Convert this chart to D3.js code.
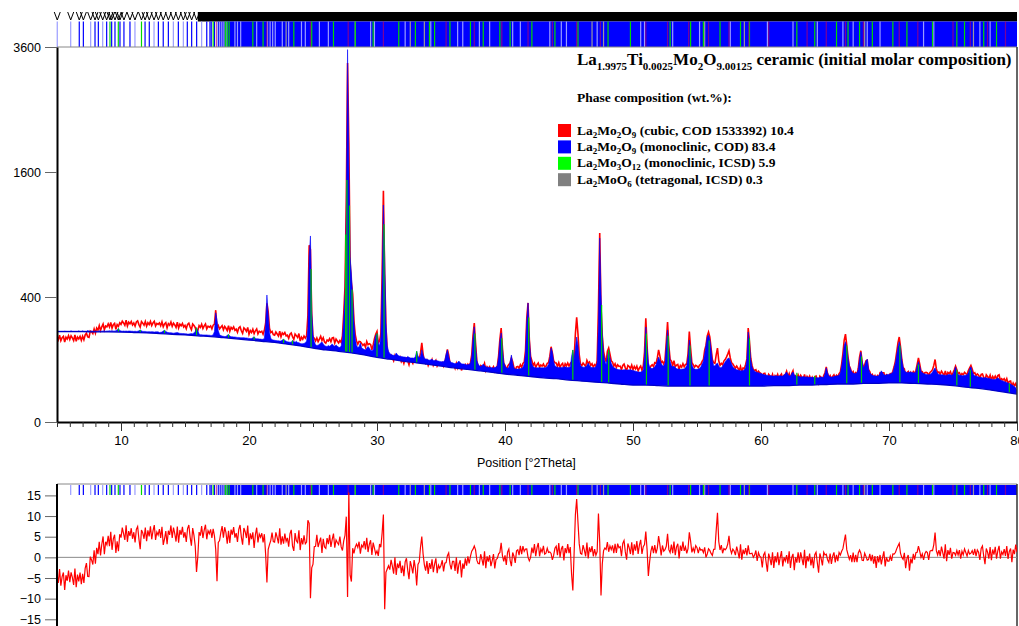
<!DOCTYPE html>
<html>
<head>
<meta charset="utf-8" />
<script src="https://d3js.org/d3.v7.min.js"></script>
<style>
    body { margin: 0; background: #fff; }
    svg { display: block; font-family: "Liberation Sans", Arial, sans-serif; }
    .tick text { font-size: 12.5px; fill: #000; }
    .legend { font-family: "Liberation Serif", "Times New Roman", serif; font-weight: bold; fill: #000; }
</style>
</head>
<body>
<div id="chart"></div>
<script>
// measurement grid: 5 to 80 deg 2theta, 0.1 deg step
var startAngle = 5, stepAngle = 0.1;

// observed counts, one row per degree
var observed = [
187,173,193,169,182,188,164,184,176,191,
174,190,181,170,194,167,185,177,188,171,
188,173,194,202,185,183,212,208,200,222,
202,226,216,238,214,232,246,218,236,232,
247,231,254,225,242,249,220,243,234,252,
244,260,251,239,265,236,255,247,259,241,
251,235,256,262,243,230,258,250,240,259,
235,252,243,259,238,251,260,236,249,244,
251,237,257,232,246,253,227,248,240,256,
234,250,241,229,255,226,245,237,249,231,
239,223,244,250,231,218,246,238,228,205,
215,238,229,245,224,237,246,222,235,230,
236,222,240,245,320,225,238,222,230,238,
218,234,225,214,238,211,229,221,232,215,
221,206,226,232,213,201,227,220,210,229,
197,214,205,220,200,213,222,199,211,206,
211,197,215,250,360,310,225,205,210,195,
193,207,198,189,211,186,203,196,205,190,
193,179,197,203,186,175,198,191,183,200,
168,184,175,189,180,190,289,800,760,300,
185,180,168,181,165,176,188,170,182,164,
159,172,168,178,165,181,183,160,176,168,
160,170,162,190,300,470,1250,3300,2000,650,
500,420,262,195,168,155,166,165,158,150,
156,143,166,153,157,154,133,152,178,197,
210,160,168,200,560,1370,560,230,135,118,
106,114,105,96,113,102,109,100,107,93,
100,88,103,105,96,84,101,95,88,101,
98,96,104,100,122,160,118,96,88,97,
82,92,87,99,82,90,97,80,87,83,
85,90,80,92,112,135,115,88,79,86,
84,74,88,75,88,87,68,80,75,84,
76,85,79,90,115,190,251,160,95,80,
74,82,79,78,88,68,78,73,78,68,
72,78,66,75,80,112,175,226,140,88,
82,68,79,85,89,105,93,75,67,78,
79,74,84,77,88,92,130,275,363,175,
110,96,82,89,76,84,89,77,83,80,
86,78,80,88,90,110,145,122,96,90,
89,79,90,76,84,88,74,87,81,89,
80,88,92,95,105,200,280,200,115,86,
81,89,84,79,97,88,92,82,87,77,
84,80,96,330,914,340,190,128,105,93,
128,140,118,96,92,80,87,76,84,79,
80,70,82,86,75,67,82,79,73,83,
70,79,72,80,67,75,80,68,80,125,
275,150,72,74,80,84,79,90,88,105,
133,112,90,94,86,98,165,256,150,100,
95,82,96,78,83,85,71,82,77,87,
78,85,86,120,209,140,90,84,77,82,
80,76,83,85,94,100,132,150,190,207,
185,140,100,90,88,115,140,96,82,88,
84,95,100,108,118,130,105,90,86,80,
74,80,74,67,79,65,75,73,85,102,
226,165,104,82,70,68,70,60,66,62,
60,51,60,61,52,45,58,54,49,58,
46,55,51,58,48,55,59,47,56,57,
66,53,60,46,60,67,47,54,49,57,
49,56,51,47,58,44,53,48,54,45,
51,43,52,54,46,39,54,51,45,55,
62,78,60,50,55,47,53,57,50,56,
52,60,64,86,120,172,198,150,108,80,
72,60,65,56,62,58,74,108,130,92,
72,84,96,98,70,65,55,58,50,55,
46,55,51,62,61,62,62,49,57,55,
55,60,58,66,78,95,125,160,185,145,
100,76,72,55,62,65,53,63,58,65,
60,68,85,105,86,66,65,58,62,63,
62,55,63,66,70,82,100,72,62,64,
58,66,61,55,67,53,63,60,65,55,
62,70,80,70,60,62,55,60,57,63,
60,58,68,75,82,72,60,62,55,59,
56,49,58,59,51,45,57,53,48,56,
45,53,48,54,47,55,57,44,48,45,
48,42,48,38,42,43,32,39,34,38,
30
];

// calculated profile, same grid
var calculated = [
213,211,211,211,211,211,212,211,211,211,
211,213,211,211,211,211,211,213,211,211,
213,211,211,211,214,212,211,212,211,211,
212,211,211,213,211,211,212,213,211,212,
212,213,212,213,212,212,213,217,224,214,
212,211,212,211,212,211,212,212,211,211,
210,211,210,211,213,217,213,210,210,210,
209,208,209,208,209,208,207,208,208,208,
205,206,207,212,216,210,206,205,204,204,
203,202,203,204,205,203,201,201,200,200,
199,199,198,198,199,200,199,203,210,228,
214,198,195,195,194,194,194,194,193,193,
192,192,195,210,305,265,214,196,191,189,
188,187,187,193,196,189,186,186,185,185,
184,183,183,182,182,182,182,181,181,180,
179,178,178,182,186,179,177,177,176,176,
175,175,180,245,413,295,205,180,173,172,
171,170,169,169,168,168,172,176,170,167,
165,164,163,163,170,166,163,167,162,161,
158,157,157,158,161,168,225,700,886,320,
195,165,153,150,151,155,160,164,156,150,
147,146,150,147,151,156,150,147,152,148,
143,142,148,180,270,420,1100,3550,1700,700,
560,400,255,180,150,142,145,160,142,137,
135,133,140,146,140,132,130,133,165,192,
200,158,150,185,500,1205,700,255,150,128,
120,117,115,114,113,122,116,112,111,110,
109,108,108,106,110,107,105,105,105,104,
110,128,112,105,110,133,114,104,102,101,
99,98,99,101,97,97,98,96,95,94,
93,93,94,98,118,133,110,95,91,90,
88,87,88,91,95,90,87,86,86,85,
84,84,85,89,108,178,232,150,98,86,
80,79,81,86,82,78,77,77,76,76,
75,75,76,77,81,108,168,203,138,92,
80,75,74,77,92,115,88,74,72,72,
72,72,73,74,77,86,120,260,363,180,
110,86,78,76,75,75,75,76,75,75,
75,75,76,79,85,104,140,125,94,81,
78,77,76,76,76,77,77,78,77,76,
76,78,110,133,100,140,185,150,100,82,
78,77,77,78,82,89,82,77,76,76,
76,78,90,250,866,420,200,120,95,85,
110,133,105,88,80,76,74,72,71,70,
70,69,69,70,70,69,69,70,70,69,
68,67,66,65,64,64,64,65,70,110,
231,140,90,78,74,73,75,78,84,95,
108,98,88,82,80,90,150,217,140,95,
82,78,80,76,73,72,72,71,71,72,
72,75,82,110,172,120,85,75,72,71,
71,72,74,78,86,95,120,150,185,194,
175,135,98,82,80,86,89,80,75,76,
80,86,92,98,103,105,96,86,78,74,
72,70,69,68,67,67,68,70,76,100,
207,160,100,78,70,66,64,63,62,61,
60,59,58,57,56,56,55,55,55,54,
54,54,55,54,54,55,54,54,56,60,
64,58,55,54,60,64,57,54,53,53,
53,52,52,53,52,52,52,51,51,51,
51,51,50,50,50,50,51,52,51,51,
60,75,62,54,52,52,52,53,54,54,
55,56,62,80,110,150,165,140,105,82,
70,64,61,60,60,62,70,100,125,95,
75,80,95,101,72,62,58,56,55,54,
54,54,55,60,67,62,57,56,57,58,
58,59,61,63,75,90,115,145,165,140,
100,78,68,64,63,63,64,64,63,62,
62,64,80,93,80,66,62,60,59,58,
58,57,58,60,64,70,75,66,60,58,
57,57,57,56,56,56,57,58,57,56,
58,66,78,64,58,56,56,55,55,56,
56,57,62,72,78,66,58,55,54,53,
52,51,51,50,50,50,50,49,49,48,
47,47,46,46,48,50,48,45,44,43,
42,41,40,39,38,37,35,34,32,30,
27
];

// refined background, every 1 deg from 5 to 80
var backgroundStart = 5, backgroundStep = 1;
var background = [
209,209,209,208,208,207,205,203,200,197,
194,190,187,182,177,172,167,162,155,148,
140,133,128,122,115,107,101,95,90,85,
80,75,71,67,63,59,56,53,50,48,
45,43,41,39,37,35,35,34,33,33,
33,33,33,33,33,33,34,34,35,35,
36,37,37,38,38,39,39,38,37,36,
34,31,29,26,23,20
];

// La2Mo3O12 contributions shown as green sticks [2theta, counts]
var greenSticks = [[9.8,224],[11.5,217],[13.4,216],[15.9,228],[18.4,196],[20.4,186],[22.7,176],[23.4,170],
    [24.85,600],[27.55,900],[27.65,1500],[27.85,1200],[28.05,450],[30.0,200],[30.55,1000],[33.1,128],
    [37.65,200],[39.75,180],[41.85,280],[45.3,133],[47.55,350],[48.1,133],[51.05,200],[52.75,190],
    [54.45,150],[55.95,170],[59.1,180],[62.8,62],[64.2,55],[66.7,150],[67.85,110],[70.85,150],
    [72.3,85],[75.3,70],[76.35,70],[79.4,38]];

// reflection markers per phase (deg 2theta)
var monoclinicRefl = [6.74,7.06,7.97,8.23,8.88,9.27,9.53,9.92,10.23,10.70,11.88,12.21,12.92,13.30,13.70,
    14.48,15.18,15.52,15.91,16.70,16.95,17.05,17.3,17.6,17.75,17.9,18.05,18.2];
var monoclinicWeak = [5.02,6.07,7.63,8.57,11.09,12.58,14.09,14.87,16.30,18.9,19.1,19.35,20.6,21.45,21.65,
    21.85,22.05,22.6,23.1,24.1,24.4,25.5,26.2,29.5,29.8,32.2,34.2,36.3,36.7,38.0,38.8,40.6,41.2,43.5,
    44.4,44.8,47.2,50.6,50.9,53.1,55.2,57.6,60.5,62.5,64.4,66.4,67.2,68.3,69.3,72.7,73.5,77.1,77.9];
var monoclinicBand = [18.3, 80];
var trimolybdateRefl = [9.14,9.79,11.6,17.2,18.15,18.3,18.45,20.3,21.1,23.5,24.9,26.6,28.3,29.7,31.7,33.0,
    34.1,34.5,35.7,37.3,38.3,39.6,40.4,42.1,43.9,45.7,48.05,49.8,52.9,54.5,55.5,56.8,58.4,59.1,62.8,
    64.2,65.9,66.8,67.7,68.7,70.3,71.4,73.4,75.3,75.9,77.4,78.4];
var cubicRefl = [17.45,21.4,24.8,27.75,30.5,35.4,37.6,39.75,41.8,43.7,45.6,47.45,51.0,52.7,54.35,55.9,
    57.5,59.05,60.6,63.6,65.1,66.6,68.0,70.8,72.25,75.0,76.35,77.7,79.1];
var tetragonalRefl = [22.9,28.3,32.6,33.7,46.8,47.7,55.6,58.7,68.1,76.6];
var markerBand = [16.0, 80];

// axes
var xTicks = [10, 20, 30, 40, 50, 60, 70, 80];
var yTicksTop = [0, 400, 1600, 3600];
var diffTicks = [15, 10, 5, 0, -5, -10, -15];
var diffFactor = 4.5;

// legend
var titleFormula = "La_1.9975Ti_0.0025Mo_2O_9.00125";
var titleRest = " ceramic (initial molar composition)";
var phaseFormulas = ["La_2Mo_2O_9", "La_2Mo_2O_9", "La_2Mo_3O_12", "La_2MoO_6"];
var phaseNotes = [" (cubic, COD 1533392) ", " (monoclinic, COD) ", " (monoclinic, ICSD) ", " (tetragonal, ICSD) "];
var phaseWt = ["10.4", "83.4", "5.9", "0.3"];
var phaseColors = ["#ff0000", "#0000ff", "#00ff00", "#808080"];

(function(d3) {
    'use strict';

    var width = 1019, height = 626;
    var left = 57, right = 1017, topY = 47, baseY = 422;

    var svg = d3.select('#chart').append('svg')
        .attr('width', width)
        .attr('height', height);

    var x = d3.scaleLinear().domain([5, 80]).range([left, right]);
    var y = d3.scaleSqrt().domain([0, 3600]).range([baseY, topY]);
    var yd = d3.scaleLinear().domain([-15, 15]).range([619.3, 495.4]);

    var rows = observed.map(function(o, i) {
        var c = calculated[i];
        return { t: startAngle + i * stepAngle, obs: o, calc: c,
                 diff: diffFactor * (Math.sqrt(o) - Math.sqrt(c)) };
    });
    var bgRows = background.map(function(b, i) {
        return { t: backgroundStart + i * backgroundStep, v: b };
    });

    var defs = svg.append('defs');
    defs.append('clipPath').attr('id', 'aboveBg')
        .append('path')
        .attr('d', d3.area()
            .x(function(d) { return x(d.t); })
            .y0(function(d) { return y(d.v); })
            .y1(topY)
            .curve(d3.curveMonotoneX)(bgRows));
    defs.append('clipPath').attr('id', 'topPlot')
        .append('rect').attr('x', left).attr('y', topY).attr('width', right - left).attr('height', baseY - topY);
    defs.append('clipPath').attr('id', 'diffPlot')
        .append('rect').attr('x', left).attr('y', 485).attr('width', right - left).attr('height', 160);

    // observed
    svg.append('path')
        .datum(rows)
        .attr('clip-path', 'url(#topPlot)')
        .attr('fill', 'none')
        .attr('stroke', '#ff0000')
        .attr('stroke-width', 1.6)
        .attr('d', d3.line()
            .x(function(d) { return x(d.t); })
            .y(function(d) { return y(d.obs); }));

    // calculated, filled down to the background
    var calcG = svg.append('g').attr('clip-path', 'url(#aboveBg)');
    calcG.append('path')
        .datum(rows)
        .attr('fill', '#0000ff')
        .attr('stroke', '#0000ff')
        .attr('stroke-width', 0.6)
        .attr('d', d3.area()
            .x(function(d) { return x(d.t); })
            .y0(baseY)
            .y1(function(d) { return y(d.calc); }));
    calcG.selectAll('line.green')
        .data(greenSticks)
        .enter().append('line')
        .attr('class', 'green')
        .attr('x1', function(d) { return x(d[0]); })
        .attr('x2', function(d) { return x(d[0]); })
        .attr('y1', baseY)
        .attr('y2', function(d) { return y(d[1]); })
        .attr('stroke', '#00d000')
        .attr('stroke-width', 1.2);

    // background line
    svg.append('path')
        .datum(bgRows)
        .attr('fill', 'none')
        .attr('stroke', '#0000c8')
        .attr('stroke-width', 1.3)
        .attr('d', d3.line()
            .x(function(d) { return x(d.t); })
            .y(function(d) { return y(d.v); })
            .curve(d3.curveMonotoneX));

    // reflection markers
    function drawMarkers(y1, y2, vMarks) {
        var g = svg.append('g');
        if (vMarks) {
            g.append('rect')
                .attr('x', x(markerBand[0])).attr('y', 12)
                .attr('width', x(markerBand[1]) - x(markerBand[0])).attr('height', y1 - 12)
                .attr('fill', '#000');
        }
        g.append('rect')
            .attr('x', x(monoclinicBand[0])).attr('y', y1)
            .attr('width', x(monoclinicBand[1]) - x(monoclinicBand[0])).attr('height', y2 - y1)
            .attr('fill', '#0000ff');
        var sets = [
            [monoclinicWeak, '#9a9cff', 1],
            [monoclinicRefl, '#0000ff', 1],
            [tetragonalRefl, '#9a9a9a', 1],
            [trimolybdateRefl, '#00d800', 1],
            [cubicRefl, '#b0006e', 0.7]
        ];
        sets.forEach(function(s) {
            g.selectAll(null)
                .data(s[0])
                .enter().append('line')
                .attr('x1', function(d) { return x(d); })
                .attr('x2', function(d) { return x(d); })
                .attr('y1', y1)
                .attr('y2', y2)
                .attr('stroke', s[1])
                .attr('stroke-opacity', s[2])
                .attr('stroke-width', 1.2);
        });
        if (vMarks) {
            var all = monoclinicWeak.concat(monoclinicRefl, trimolybdateRefl, cubicRefl, tetragonalRefl)
                .filter(function(d) { return d < markerBand[0]; });
            g.selectAll(null)
                .data(all)
                .enter().append('path')
                .attr('d', function(d) {
                    var px = x(d);
                    return 'M' + (px - 3) + ',12L' + px + ',20L' + (px + 3) + ',12';
                })
                .attr('fill', 'none')
                .attr('stroke', '#000')
                .attr('stroke-width', 1);
        }
    }
    drawMarkers(21.5, topY, true);
    drawMarkers(485, 495, false);

    // frame of top panel
    svg.append('line').attr('x1', left).attr('x2', right).attr('y1', topY).attr('y2', topY)
        .attr('stroke', '#888').attr('stroke-width', 1);
    svg.append('line').attr('x1', right).attr('x2', right).attr('y1', topY).attr('y2', baseY)
        .attr('stroke', '#333').attr('stroke-width', 1.5);

    // axes of top panel
    var yAxis = svg.append('g')
        .attr('transform', 'translate(' + left + ',0)')
        .call(d3.axisLeft(y).tickValues(yTicksTop).tickFormat(d3.format('d'))
            .tickSize(12).tickPadding(4).tickSizeOuter(0));
    yAxis.select('.domain').attr('stroke', '#000').attr('stroke-width', 2);
    yAxis.selectAll('.tick line').attr('stroke', '#666');

    var xMinor = svg.append('g')
        .attr('transform', 'translate(0,' + baseY + ')')
        .call(d3.axisBottom(x).tickValues(d3.range(5, 81)).tickSize(5).tickFormat('').tickSizeOuter(0));
    xMinor.select('.domain').attr('stroke', '#000').attr('stroke-width', 2);
    xMinor.selectAll('.tick line').attr('stroke', '#333');
    var xMajor = svg.append('g')
        .attr('transform', 'translate(0,' + baseY + ')')
        .call(d3.axisBottom(x).tickValues(xTicks).tickSize(9).tickPadding(5).tickSizeOuter(0));
    xMajor.select('.domain').remove();
    xMajor.selectAll('.tick line').attr('stroke', '#333');
    xMajor.selectAll('.tick text').style('font-size', '13px');

    svg.append('text')
        .attr('x', 477)
        .attr('y', 467)
        .style('font-size', '12.5px')
        .text('Position [°2Theta]');

    // difference panel
    svg.append('line').attr('x1', left).attr('x2', right).attr('y1', 484).attr('y2', 484)
        .attr('stroke', '#888').attr('stroke-width', 1);
    svg.append('line').attr('x1', right).attr('x2', right).attr('y1', 484).attr('y2', height)
        .attr('stroke', '#333').attr('stroke-width', 1.5);
    svg.append('line').attr('x1', left).attr('x2', right).attr('y1', yd(0)).attr('y2', yd(0))
        .attr('stroke', '#8a8a8a').attr('stroke-width', 1);

    svg.append('path')
        .datum(rows)
        .attr('clip-path', 'url(#diffPlot)')
        .attr('fill', 'none')
        .attr('stroke', '#ff0000')
        .attr('stroke-width', 1.2)
        .attr('d', d3.line()
            .x(function(d) { return x(d.t); })
            .y(function(d) { return yd(d.diff); }));

    var dAxis = svg.append('g')
        .attr('transform', 'translate(' + left + ',0)')
        .call(d3.axisLeft(yd).tickValues(diffTicks).tickSize(12).tickPadding(4).tickSizeOuter(0));
    dAxis.select('.domain').remove();
    dAxis.selectAll('.tick line').attr('stroke', '#666');
    svg.append('line').attr('x1', left).attr('x2', left).attr('y1', 484).attr('y2', height)
        .attr('stroke', '#000').attr('stroke-width', 2);

    // legend
    function addFormula(textSel, formula, size, subSize, shift) {
        var parts = formula.split(/_([0-9.]+)/);
        parts.forEach(function(p, i) {
            if (p === '') return;
            var sub = i % 2 === 1;
            var prevSub = i > 0 && (i - 1) % 2 === 1;
            textSel.append('tspan')
                .style('font-size', (sub ? subSize : size) + 'px')
                .attr('dy', sub ? shift : (prevSub ? -shift : 0))
                .text(p);
        });
    }

    var title = svg.append('text').attr('class', 'legend').attr('x', 577).attr('y', 65);
    addFormula(title, titleFormula, 17, 11, 5);
    title.append('tspan').attr('dy', -5).style('font-size', '17px').text(titleRest);

    svg.append('text').attr('class', 'legend')
        .attr('x', 577).attr('y', 101.5)
        .style('font-size', '13.5px')
        .text('Phase composition (wt.%):');

    phaseFormulas.forEach(function(f, i) {
        var yy = 124 + i * 16.4;
        svg.append('rect')
            .attr('x', 558).attr('y', yy)
            .attr('width', 13).attr('height', 13)
            .attr('fill', phaseColors[i]);
        var t = svg.append('text').attr('class', 'legend')
            .attr('x', 577).attr('y', yy + 10.5);
        addFormula(t, f, 13.5, 9, 3);
        t.append('tspan').attr('dy', -3).style('font-size', '13.5px').text(phaseNotes[i] + phaseWt[i]);
    });

})(window.d3);
</script>
</body>
</html>
